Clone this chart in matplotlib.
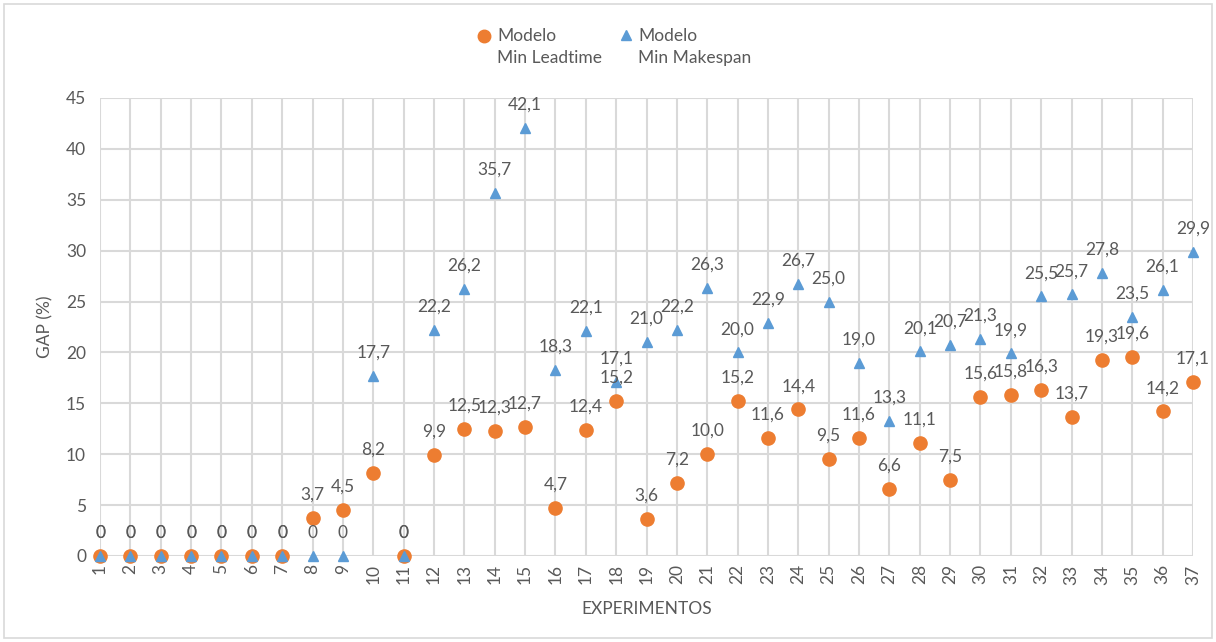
import matplotlib
matplotlib.use("Agg")
import matplotlib.pyplot as plt
from matplotlib.lines import Line2D
from matplotlib.patches import Rectangle

plt.rcParams['font.family'] = ['Lato', 'DejaVu Sans']

experimentos = list(range(1, 38))
min_leadtime = [0, 0, 0, 0, 0, 0, 0, 3.7, 4.5, 8.2, 0, 9.9, 12.5, 12.3, 12.7,
                4.7, 12.4, 15.2, 3.6, 7.2, 10.0, 15.2, 11.6, 14.4, 9.5, 11.6,
                6.6, 11.1, 7.5, 15.6, 15.8, 16.3, 13.7, 19.3, 19.6, 14.2, 17.1]
min_makespan = [0, 0, 0, 0, 0, 0, 0, 0, 0, 17.7, 0, 22.2, 26.2, 35.7, 42.1,
                18.3, 22.1, 17.1, 21.0, 22.2, 26.3, 20.0, 22.9, 26.7, 25.0,
                19.0, 13.3, 20.1, 20.7, 21.3, 19.9, 25.5, 25.7, 27.8, 23.5,
                26.1, 29.9]
y_ticks = [0, 5, 10, 15, 20, 25, 30, 35, 40, 45]

ORANGE = '#ED7D31'
BLUE = '#5B9BD5'
TEXT = '#595959'
GRID = '#D9D9D9'

fig = plt.figure(figsize=(12.16, 6.42), dpi=100)
ax = fig.add_axes([100 / 1216, 86 / 642, 1093 / 1216, 458 / 642])

ax.plot(experimentos, min_leadtime, linestyle='none', marker='o',
        markersize=9.5, color=ORANGE, zorder=3, clip_on=False)
ax.plot(experimentos, min_makespan, linestyle='none', marker='^',
        markersize=7.5, color=BLUE, zorder=4, clip_on=False)


def fmt(v):
    return '0' if v == 0 else f'{v:.1f}'.replace('.', ',')


for x, v in zip(experimentos, min_leadtime):
    ax.annotate(fmt(v), (x, v), xytext=(0, 11), textcoords='offset points',
                ha='center', va='bottom', fontsize=12.5, color=TEXT, zorder=5,
                annotation_clip=False)
for x, v in zip(experimentos, min_makespan):
    ax.annotate(fmt(v), (x, v), xytext=(0, 11), textcoords='offset points',
                ha='center', va='bottom', fontsize=12.5, color=TEXT, zorder=5,
                annotation_clip=False)

ax.set_xlim(1, 37)
ax.set_ylim(0, 45)
ax.set_xticks(experimentos)
ax.set_xticklabels([str(e) for e in experimentos], rotation=90)
ax.set_yticks(y_ticks)
ax.tick_params(axis='both', length=0, labelsize=12.5, labelcolor=TEXT)
ax.tick_params(axis='x', pad=6)
ax.tick_params(axis='y', pad=10)
ax.grid(True, color=GRID, linewidth=1.5)
ax.set_axisbelow(True)
for s in ax.spines.values():
    s.set_visible(False)

ax.set_ylabel('GAP (%)', fontsize=12.5, color=TEXT, labelpad=9)
ax.set_xlabel('EXPERIMENTOS', fontsize=12.5, color=TEXT, labelpad=12)

# legend drawn by hand so the marker sits beside the first text line
W, H = 1216, 642
def fx(px):
    return px / W
def fy(py):
    return 1 - py / H

fig.add_artist(Line2D([fx(484)], [fy(36)], marker='o', markersize=9,
                      color=ORANGE, linestyle='none', transform=fig.transFigure))
fig.text(fx(497), fy(36), 'Modelo', fontsize=12.5, color=TEXT, va='center')
fig.text(fx(497), fy(58), 'Min Leadtime', fontsize=12.5, color=TEXT, va='center')
fig.add_artist(Line2D([fx(626)], [fy(35)], marker='^', markersize=7.5,
                      color=BLUE, linestyle='none', transform=fig.transFigure))
fig.text(fx(638), fy(36), 'Modelo', fontsize=12.5, color=TEXT, va='center')
fig.text(fx(638), fy(58), 'Min Makespan', fontsize=12.5, color=TEXT, va='center')

fig.add_artist(Rectangle((fx(4), fy(638)), fx(1208), 634 / H,
                         transform=fig.transFigure, fill=False,
                         edgecolor=GRID, linewidth=1.2))

fig.savefig('out.png', dpi=100, facecolor='white')
